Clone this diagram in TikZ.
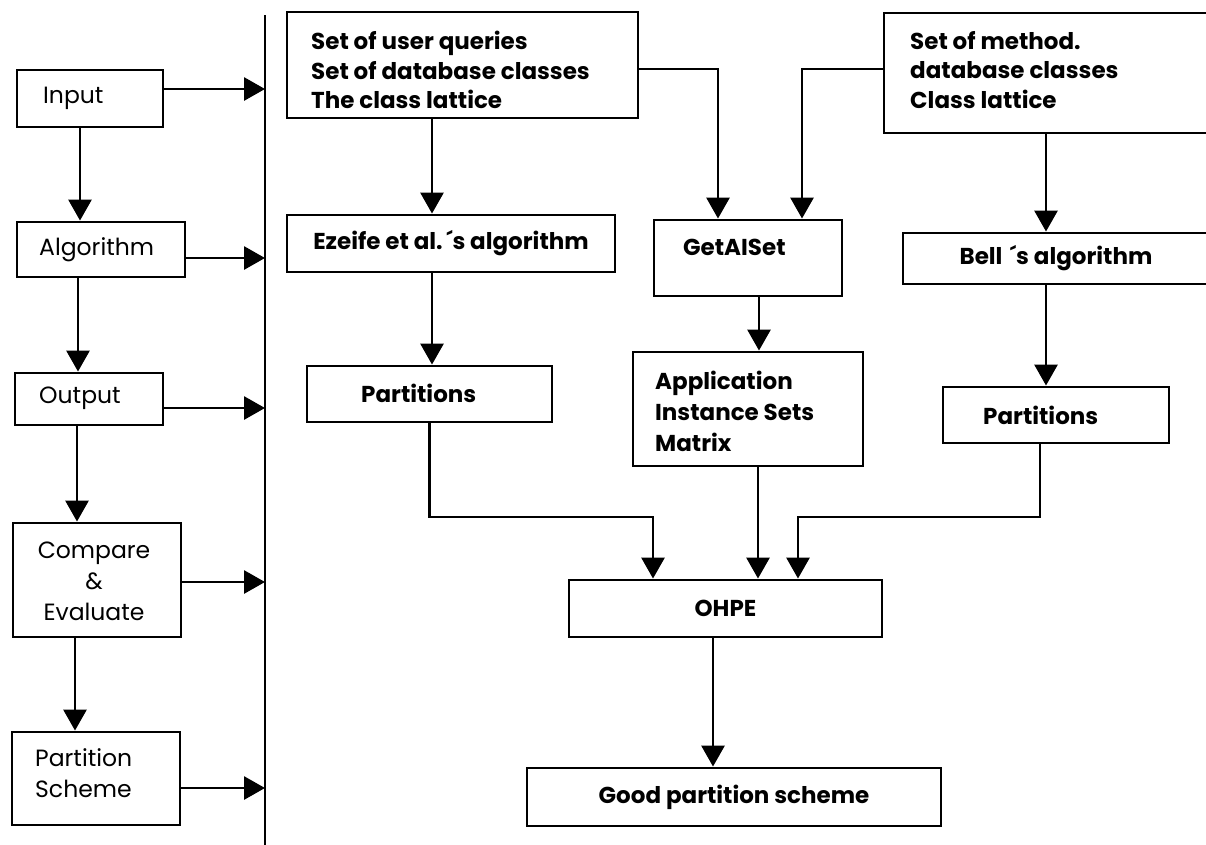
\documentclass[tikz,border=0pt]{standalone}
\usepackage{fontspec}
\setmainfont{Poppins}
\usetikzlibrary{arrows.meta}
\begin{document}
\begin{tikzpicture}[x=1pt,y=-1pt,
  box/.style={draw, line width=2.9pt, rectangle, inner sep=0pt},
  ltxt/.style={inner sep=0pt, align=left, font=\fontsize{23.5}{31}\selectfont},
  bfont/.style={font=\fontsize{23}{29.5}\selectfont\bfseries},
  rtxt/.style={inner sep=0pt, align=left, bfont},
  conn/.style={line width=2.9pt},
  arr/.style={line width=2.9pt, -{Triangle[length=21pt,width=23pt]}}]
\useasboundingbox (0,0) rectangle (1206,844);

% left column: the stages
\node[box, minimum width=146, minimum height=57] (inp) at (90,98.5) {};
\node[box, minimum width=168, minimum height=55] (alg) at (101,249.5) {};
\node[box, minimum width=148, minimum height=52] (out) at (89,399) {};
\node[box, minimum width=168, minimum height=114] (cmp) at (97,580) {};
\node[box, minimum width=168, minimum height=93] (psc) at (96,778.5) {};

\node[ltxt, anchor=west] (inp-t) at (43,98) {Input};
\node[ltxt, anchor=west] (alg-t) at (39,250) {Algorithm};
\node[ltxt, anchor=west] (out-t) at (39,398) {Output};
\node[ltxt, align=center] (cmp-t) at (94,581) {Compare\\\&\\Evaluate};
\node[ltxt, anchor=west] (psc-t) at (35,773) {Partition\\Scheme};

% separating bar
\coordinate (bar) at (265,15);
\coordinate (barend) at (265,850);
\draw[conn] (bar) -- (barend);

\draw[arr] (inp.south -| 80,0) -- (alg.north -| 80,0);
\draw[arr] (alg.south -| 78,0) -- (out.north -| 78,0);
\draw[arr] (out.south -| 77,0) -- (cmp.north -| 77,0);
\draw[arr] (cmp.south -| 75,0) -- (psc.north -| 75,0);

\draw[arr] (inp.east |- 0,89) -- (bar |- 0,89);
\draw[arr] (alg.east |- 0,258) -- (bar |- 0,258);
\draw[arr] (out.east |- 0,408) -- (bar |- 0,408);
\draw[arr] (cmp.east |- 0,582) -- (bar |- 0,582);
\draw[arr] (psc.east |- 0,788) -- (bar |- 0,788);

% right part: the concrete process
\node[box, minimum width=351, minimum height=106] (q) at (462.5,65) {};
\node[box, minimum width=346, minimum height=120] (m) at (1057,73) {};
\node[box, bfont, minimum width=328, minimum height=57] (ez) at (451,243.5)
  {Ezeife et al.\,´s algorithm};
\node[box, minimum width=188, minimum height=76] (gs) at (748,258) {};
\node[box, bfont, minimum width=306, minimum height=51] (bell) at (1056,258.5)
  {Bell\,\,´s algorithm};
\node[box, minimum width=245, minimum height=56] (pl) at (429.5,394) {};
\node[box, minimum width=230, minimum height=114] (app) at (748,409) {};
\node[box, minimum width=226, minimum height=56] (pr) at (1056,415) {};
\node[box, bfont, minimum width=313, minimum height=57] (ohpe) at (725.5,608.5)
  {OHPE};
\node[box, bfont, minimum width=414, minimum height=58] (good) at (734,797)
  {Good partition scheme};

\node[rtxt, anchor=west] (q-t) at (311,70) {Set of user queries\\Set of database classes\\The class lattice};
\node[rtxt, anchor=west] (m-t) at (910,70) {Set of method.\\database classes\\Class lattice};
\node[rtxt, anchor=west] (gs-t) at (683,247) {GetAISet};
\node[rtxt, anchor=west] (pl-t) at (361,393) {Partitions};
\node[rtxt, anchor=west, font=\fontsize{23}{31}\selectfont\bfseries] (app-t) at (655,411) {Application\\Instance Sets\\Matrix};
\node[rtxt, anchor=west] (pr-t) at (983,415) {Partitions};

\coordinate (jl) at (653,517);
\coordinate (jr) at (798,517);

\draw[arr] (q.south -| 432,0) -- (ez.north -| 432,0);
\draw[arr] (q.east |- 0,69) -| (gs.north -| 718,0);
\draw[arr] (m.west |- 0,69) -| (gs.north -| 802,0);
\draw[arr] (m.south -| 1046,0) -- (bell.north -| 1046,0);
\draw[arr] (ez.south -| 432,0) -- (pl.north -| 432,0);
\draw[arr] (gs.south -| 759,0) -- (app.north -| 759,0);
\draw[arr] (bell.south -| 1046,0) -- (pr.north -| 1046,0);
\draw[arr] (pl.south) |- (jl) -- (jl |- ohpe.north);
\draw[arr] (app.south -| 758,0) -- (ohpe.north -| 758,0);
\draw[arr] (pr.south -| 1040,0) |- (jr) -- (jr |- ohpe.north);
\draw[arr] (ohpe.south -| 713,0) -- (good.north -| 713,0);
\end{tikzpicture}
\end{document}
